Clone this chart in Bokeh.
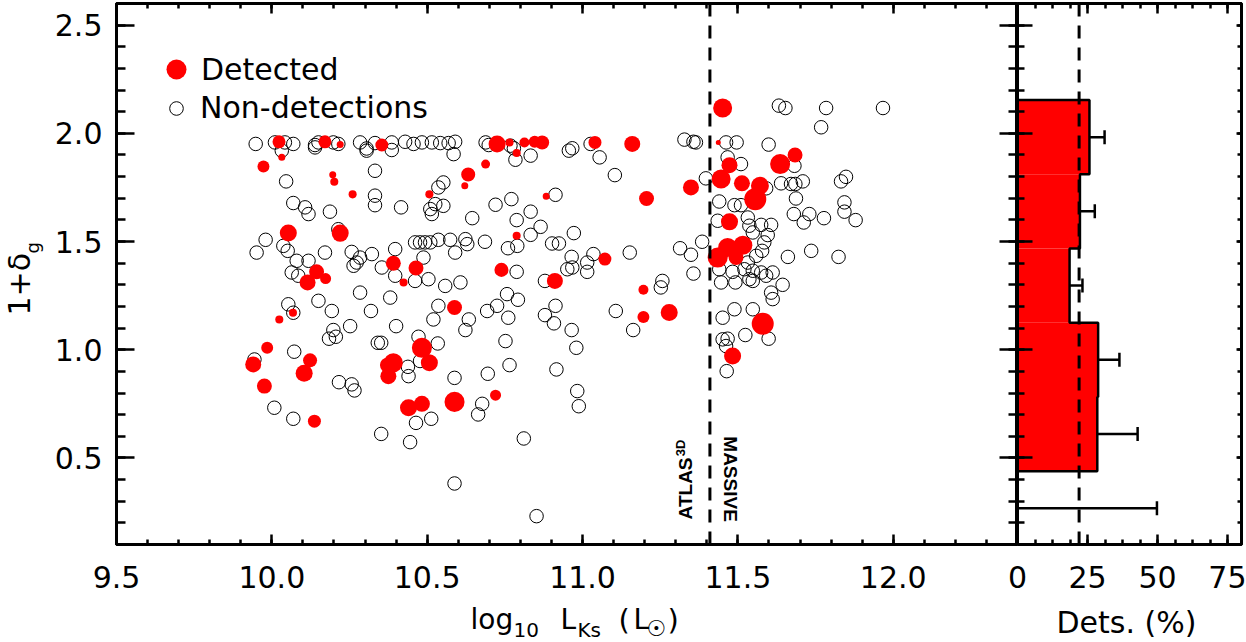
import numpy as np
from bokeh.plotting import figure
from bokeh.layouts import row
from bokeh.models import (ColumnDataSource, Range1d, LinearAxis, SingleIntervalTicker,
                          Span, Label, Legend, LegendItem, Whisker, TeeHead,
                          CustomJSTickFormatter, PrintfTickFormatter)
from bokeh.embed import file_html
from bokeh.resources import INLINE

FONT = "DejaVu Sans"

# ---------------- data ----------------
nondet_logL = [
    9.948, 10.010, 10.042, 10.069, 10.139, 10.150, 10.198, 10.214, 10.284, 10.305, 10.332, 10.386,
    10.429, 10.456, 10.483, 10.515, 10.542, 10.569, 10.590,
    10.032, 10.139, 10.305, 10.386, 10.585,
    10.332, 10.046, 10.552, 10.536, 10.332, 10.332, 10.069, 10.107, 10.118, 10.187, 10.416, 10.526,
    10.510, 10.515, 10.552, 10.214, 9.980, 10.037, 10.051, 9.951, 10.171, 10.257, 10.080, 10.118,
    10.284, 10.322, 10.397, 10.461, 10.477, 10.493, 10.510, 10.536, 10.574, 10.590, 10.263, 10.273,
    10.354, 10.488, 10.064, 10.085, 10.397, 10.461, 10.504, 10.558, 10.284, 10.381, 10.150, 10.053,
    10.536,
    10.688, 10.698, 10.768, 10.779, 10.784, 10.833, 10.956, 10.967, 11.026, 11.055, 11.104, 10.913,
    10.720, 10.771, 10.645, 10.788, 10.833, 10.865, 10.833, 10.790, 10.760, 10.686, 10.623, 10.629,
    10.902, 10.924, 10.972, 10.965, 10.951, 10.967, 11.015, 11.015, 11.035, 11.152, 10.788, 10.607,
    10.879, 10.757, 10.792, 10.725, 10.913, 11.257, 11.252,
    11.632, 11.653, 11.784, 11.967, 11.768, 11.328, 11.357, 11.365, 11.462, 11.496, 11.599, 11.467,
    11.510, 11.682, 11.397, 11.639, 11.671, 11.685, 11.709, 11.832, 11.848, 11.591, 11.687, 11.440,
    11.489, 11.510, 11.843, 11.843, 11.879, 11.777, 11.730, 11.712, 11.680, 11.532, 11.435, 11.537,
    11.575, 11.607, 11.548, 11.596, 11.585, 11.578, 11.559, 11.532, 11.521, 11.548, 11.575, 11.591,
    11.612, 11.537, 11.548, 11.644, 11.607, 11.612, 11.446, 11.492, 11.357, 11.314, 11.349, 11.385,
    11.661, 11.736, 11.824, 11.440, 11.483,
    10.069, 10.193, 10.319, 10.520, 10.400, 10.252, 10.198, 10.184, 10.206, 10.341, 10.352, 10.472,
    10.534, 10.072, 9.944, 10.438, 10.440, 10.477, 10.588, 10.216, 10.257, 10.266, 10.008, 10.069,
    10.464, 10.513, 10.352, 10.445, 10.588,
    10.634, 10.623, 10.693, 10.761, 10.879, 10.908, 10.965, 10.980, 10.752, 10.765, 10.695, 10.916,
    10.983, 10.988, 10.677, 10.664, 10.811, 10.852, 11.107, 11.163,
    11.451, 11.489, 11.548, 11.524, 11.451, 11.467, 11.462, 11.599, 11.464,
]
nondet_delta = [
    1.951, 1.958, 1.958, 1.951, 1.946, 1.958, 1.958, 1.951, 1.958, 1.930, 1.955, 1.958,
    1.961, 1.951, 1.958, 1.958, 1.955, 1.955, 1.961,
    1.920, 1.935, 1.920, 1.923, 1.904,
    1.827, 1.778, 1.773, 1.750, 1.712, 1.668, 1.678, 1.658, 1.627, 1.638, 1.658, 1.673,
    1.650, 1.627, 1.665, 1.557, 1.508, 1.480, 1.457, 1.449, 1.449, 1.452, 1.411, 1.411,
    1.426, 1.442, 1.465, 1.496, 1.496, 1.496, 1.496, 1.508, 1.508, 1.449, 1.388, 1.403,
    1.380, 1.426, 1.357, 1.342, 1.342, 1.318, 1.326, 1.295, 1.264, 1.241, 1.226, 1.210,
    1.203,
    1.958, 1.946, 1.943, 1.931, 1.878, 1.897, 1.920, 1.931, 1.951, 1.889, 1.807, 1.716,
    1.670, 1.696, 1.608, 1.599, 1.638, 1.568, 1.531, 1.480, 1.469, 1.499, 1.511, 1.488,
    1.491, 1.491, 1.539, 1.429, 1.372, 1.380, 1.403, 1.360, 1.442, 1.449, 1.360, 1.311,
    1.318, 1.257, 1.231, 1.203, 1.203, 1.318, 1.288,
    2.128, 2.117, 2.117, 2.117, 2.028, 1.971, 1.961, 1.958, 1.958, 1.958, 1.948, 1.889,
    1.858, 1.850, 1.792, 1.769, 1.766, 1.766, 1.778, 1.778, 1.799, 1.746, 1.699, 1.685,
    1.668, 1.668, 1.681, 1.638, 1.599, 1.608, 1.627, 1.588, 1.627, 1.611, 1.596, 1.573,
    1.577, 1.577, 1.542, 1.530, 1.496, 1.457, 1.434, 1.403, 1.372, 1.365, 1.357, 1.342,
    1.357, 1.326, 1.318, 1.300, 1.264, 1.234, 1.311, 1.311, 1.352, 1.469, 1.439, 1.499,
    1.429, 1.457, 1.429, 1.372, 1.360,
    1.171, 1.179, 1.179, 1.140, 1.109, 1.109, 1.091, 1.051, 1.060, 1.032, 1.032, 1.060,
    1.029, 0.991, 0.955, 0.921, 0.878, 0.948, 0.870, 0.850, 0.840, 0.812, 0.732, 0.681,
    0.662, 0.681, 0.611, 0.573, 0.382,
    1.140, 1.091, 1.179, 1.148, 1.160, 1.122, 1.091, 1.009, 1.040, 0.929, 0.889, 0.909,
    0.809, 0.739, 0.750, 0.701, 0.590, 0.231, 1.179, 1.091,
    1.148, 1.187, 1.187, 1.068, 1.048, 1.051, 1.017, 1.051, 0.901,
]

det_logL = [
    10.023, 10.171, 10.220, 10.354, 10.032, 9.973, 10.196, 10.201, 10.260, 10.507, 10.053, 10.220,
    10.144, 10.115, 10.173, 10.391, 10.464, 10.424,
    10.588, 11.279,
    10.725, 10.765, 10.788, 10.813, 10.846, 10.870, 11.040, 11.160, 10.688, 10.632, 10.621, 10.883,
    11.206, 10.788, 11.072, 10.739, 10.911, 11.196,
    11.451, 11.437, 11.473, 11.446, 11.513, 11.636, 11.684, 11.571, 11.556, 11.349, 11.473, 11.467,
    11.516, 11.435, 11.494,
    10.068, 10.024, 9.985, 9.940, 9.976, 10.123, 10.104, 10.137, 10.391, 10.372, 10.375, 10.483,
    10.507, 10.440, 10.483, 10.588,
    10.720, 11.196,
    11.580, 11.483,
]
det_delta = [
    1.961, 1.961, 1.948, 1.946, 1.889, 1.847, 1.809, 1.776, 1.718, 1.718, 1.539, 1.539,
    1.360, 1.311, 1.329, 1.400, 1.378, 1.311,
    1.195, 1.172,
    1.951, 1.958, 1.909, 1.958, 1.961, 1.958, 1.958, 1.951, 1.858, 1.810, 1.758, 1.709,
    1.699, 1.527, 1.419, 1.369, 1.318, 1.277,
    2.117, 1.958, 1.853, 1.789, 1.769, 1.858, 1.900, 1.758, 1.696, 1.750, 1.591, 1.473,
    1.483, 1.426, 1.426,
    1.171, 1.140, 1.009, 0.932, 0.832, 0.951, 0.891, 0.670, 0.940, 0.929, 0.878, 1.009,
    0.940, 0.732, 0.750, 0.759,
    0.790, 1.151,
    1.120, 0.971,
]
# relative strength of each detection (sets the marker size)
det_signal = [
    6.0, 6.0, 2.0, 6.0, 2.0, 5.3, 2.0, 2.7, 2.7, 2.7, 8.7, 8.7,
    7.3, 8.0, 4.7, 7.3, 7.3, 2.7,
    7.3, 8.7,
    8.7, 2.7, 2.7, 4.0, 5.3, 6.7, 6.0, 8.0, 3.3, 6.7, 2.0, 2.0,
    7.3, 2.7, 6.0, 6.7, 8.0, 4.0,
    10.0, 0.7, 8.0, 10.0, 8.0, 10.7, 7.3, 9.3, 12.0, 8.0, 8.7, 10.0,
    10.0, 10.7, 7.3,
    2.7, 2.7, 5.3, 8.0, 7.3, 6.7, 8.7, 6.0, 10.0, 7.3, 8.0, 10.7,
    8.7, 8.7, 8.0, 10.7,
    4.7, 5.3,
    12.0, 8.7,
]

hist_edges = [0.096, 0.439, 0.782, 1.125, 1.468, 1.811, 2.154]
hist_pct = [0.0, 28.5, 28.8, 18.6, 22.3, 25.7]
hist_err_lo = [0.0, 19.7, 23.1, 15.2, 18.4, 21.7]
hist_err_hi = [49.8, 42.9, 36.4, 23.2, 27.6, 31.1]

survey_split = 11.41      # ATLAS3D / MASSIVE boundary
mean_det_pct = 22.0
# --------------------------------------

W, H = 1246, 642
BOTTOM = H - 3 - 541


def style_axis(ax, tin, mtin, labels=True, size="30px", lw=2.5):
    ax.axis_line_width = 3
    ax.axis_line_color = "black"
    ax.major_tick_in = tin
    ax.major_tick_out = 0
    ax.minor_tick_in = mtin
    ax.minor_tick_out = 0
    ax.major_tick_line_width = lw
    ax.minor_tick_line_width = lw
    ax.major_tick_line_color = "black"
    ax.minor_tick_line_color = "black"
    ax.major_label_text_font = FONT
    ax.major_label_text_color = "black"
    if labels:
        ax.major_label_text_font_size = size
    else:
        ax.formatter = CustomJSTickFormatter(code="return ''")
        ax.major_label_text_font_size = "0px"
        ax.major_label_standoff = 0


# ---------------- main panel ----------------
p = figure(frame_width=901, frame_height=541, min_border_left=116, min_border_right=0,
           min_border_top=3, min_border_bottom=BOTTOM, title=None,
           x_range=Range1d(9.5, 12.4), y_range=Range1d(0.1, 2.6),
           x_axis_location=None, y_axis_location=None,
           output_backend="svg", toolbar_location=None)
p.grid.grid_line_color = None
p.outline_line_color = "black"
p.outline_line_width = 3
p.background_fill_color = "white"
p.border_fill_color = "white"

for loc in ["below", "above"]:
    ax = LinearAxis(ticker=SingleIntervalTicker(interval=0.5, num_minor_ticks=5))
    style_axis(ax, 10, 5, labels=(loc == "below"))
    if loc == "below":
        ax.formatter = PrintfTickFormatter(format="%.1f")
        ax.major_label_standoff = 21
    p.add_layout(ax, loc)
for loc in ["left", "right"]:
    ax = LinearAxis(ticker=SingleIntervalTicker(interval=0.5, num_minor_ticks=5))
    style_axis(ax, 18, 9, labels=(loc == "left"))
    if loc == "left":
        ax.formatter = PrintfTickFormatter(format="%.1f")
        ax.major_label_standoff = 14
    p.add_layout(ax, loc)

nsrc = ColumnDataSource(dict(x=nondet_logL, y=nondet_delta))
dsrc = ColumnDataSource(dict(x=det_logL, y=det_delta,
                             s=[4 + 1.5 * v for v in det_signal]))

r_non = p.scatter("x", "y", source=nsrc, marker="circle", size=13.5,
                  fill_color=None, line_color="black", line_width=1)
r_det = p.scatter("x", "y", source=dsrc, marker="circle", size="s",
                  fill_color="#ff0000", line_color=None)

p.add_layout(Span(location=survey_split, dimension="height", line_color="black",
                  line_width=3, line_dash="13 9"))

leg_common = dict(padding=0, margin=0, spacing=0, border_line_color=None,
                  background_fill_alpha=0, label_text_font=FONT,
                  label_text_font_size="30px", label_text_color="black")
leg1 = Legend(items=[LegendItem(label="Detected", renderers=[r_det])],
              location=(35, 450), glyph_width=50, glyph_height=50, label_standoff=0,
              **leg_common)
leg2 = Legend(items=[LegendItem(label="Non-detections", renderers=[r_non])],
              location=(43, 419), glyph_width=34, glyph_height=34, label_standoff=7,
              **leg_common)
p.add_layout(leg1)
p.add_layout(leg2)

# survey labels beside the boundary line
p.add_layout(Label(x=11.330, y=0.216, text="ATLAS", angle=np.pi / 2, text_align="left",
                   text_baseline="middle", text_font="Liberation Sans",
                   text_font_style="bold", text_font_size="19px", text_color="black"))
p.add_layout(Label(x=11.3144, y=0.508, text="3D", angle=np.pi / 2, text_align="left",
                   text_baseline="middle", text_font="Liberation Sans",
                   text_font_style="bold", text_font_size="13px", text_color="black"))
p.add_layout(Label(x=11.475, y=0.600, text="MASSIVE", angle=-np.pi / 2, text_align="left",
                   text_baseline="middle", text_font="Liberation Sans",
                   text_font_style="bold", text_font_size="19px", text_color="black"))

# ---------------- histogram panel ----------------
h = figure(frame_width=224, frame_height=541, min_border_left=20, min_border_right=5,
           min_border_top=3, min_border_bottom=BOTTOM, title=None,
           x_range=Range1d(0, 80), y_range=Range1d(0.1, 2.6),
           x_axis_location=None, y_axis_location=None,
           output_backend="svg", toolbar_location=None, margin=(0, 0, 0, -20))
h.grid.grid_line_color = None
h.outline_line_color = "black"
h.outline_line_width = 3
h.border_fill_color = None
h.background_fill_color = "white"

for loc in ["below", "above"]:
    ax = LinearAxis(ticker=SingleIntervalTicker(interval=25, num_minor_ticks=4))
    style_axis(ax, 10, 5, labels=(loc == "below"))
    if loc == "below":
        ax.major_label_standoff = 21
    h.add_layout(ax, loc)
axl = LinearAxis(ticker=SingleIntervalTicker(interval=0.5, num_minor_ticks=5))
style_axis(axl, 15, 7, labels=False)
h.add_layout(axl, "left")
axr = LinearAxis(ticker=SingleIntervalTicker(interval=0.5, num_minor_ticks=5))
style_axis(axr, 5, 4, labels=False)
h.add_layout(axr, "right")

hsrc = ColumnDataSource(dict(left=[0.0] * len(hist_pct), right=hist_pct,
                             bottom=hist_edges[:-1], top=hist_edges[1:]))
h.quad(left="left", right="right", bottom="bottom", top="top", source=hsrc,
       fill_color="#ff0000", line_color=None)

sx = [0.0]
sy = [hist_edges[-1]]
for i in range(len(hist_pct) - 1, -1, -1):
    sx += [hist_pct[i], hist_pct[i]]
    sy += [hist_edges[i + 1], hist_edges[i]]
h.line(sx, sy, line_color="black", line_width=2.5)

h.add_layout(Span(location=mean_det_pct, dimension="height", line_color="black",
                  line_width=3, line_dash="13 9"))

centers = [(a + b) / 2 for a, b in zip(hist_edges[:-1], hist_edges[1:])]
wsrc = ColumnDataSource(dict(base=centers, lower=hist_err_lo, upper=hist_err_hi))
h.add_layout(Whisker(source=wsrc, base="base", lower="lower", upper="upper",
                     dimension="width", line_color="black", line_width=2.5,
                     lower_head=TeeHead(size=14, line_width=2.5, line_color="black"),
                     upper_head=TeeHead(size=14, line_width=2.5, line_color="black")))

# ---------------- transparent overlay carrying the axis titles ----------------
t = figure(frame_width=W, frame_height=H, min_border=0, title=None,
           x_range=Range1d(0, 1), y_range=Range1d(0, 1),
           x_axis_location=None, y_axis_location=None,
           output_backend="svg", toolbar_location=None, margin=(0, 0, 0, -W))
t.grid.grid_line_color = None
t.outline_line_color = None
t.background_fill_color = None
t.border_fill_color = None


def add_text(px, py, text, size, angle=0.0):
    # px, py: page pixels from the top-left corner; py is the text's middle line
    t.add_layout(Label(x=px, y=H - py, x_units="screen", y_units="screen", text=text,
                       angle=angle, text_align="left", text_baseline="middle",
                       text_font=FONT, text_font_size=size, text_color="black"))


add_text(19, 312, "1+δ", "30px", angle=np.pi / 2)
add_text(31.5, 250, "g", "18px", angle=np.pi / 2)

add_text(470, 616, "log", "28px")
add_text(513, 626, "10", "20px")
add_text(560, 616, "L", "28px")
add_text(577, 626, "Ks", "20px")
add_text(618, 616, "(", "29px")
add_text(633, 616, "L", "28px")
add_text(646, 625, "☉", "22px")
add_text(667, 616, ")", "29px")
add_text(1056, 619, "Dets. (%)", "30px")

layout = row(p, h, t)
open("out.html", "w").write(file_html(layout, INLINE))
